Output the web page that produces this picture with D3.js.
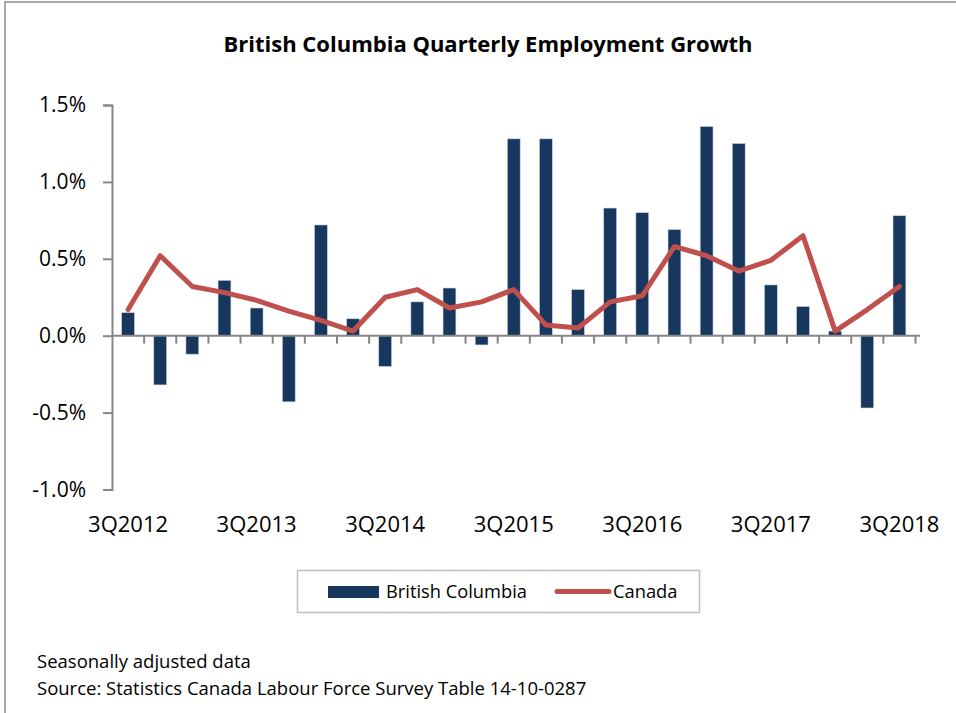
<!DOCTYPE html>
<html>
<head>
<meta charset="utf-8">
<script src="https://cdn.jsdelivr.net/npm/d3@7"></script>
<style>
  body { margin: 0; background: white; }
  svg { font-family: 'Open Sans', sans-serif; }
</style>
</head>
<body>
<div id="wrapper"></div>
<script>
const quarters = ['3Q2012','4Q2012','1Q2013','2Q2013','3Q2013','4Q2013','1Q2014','2Q2014','3Q2014','4Q2014',
  '1Q2015','2Q2015','3Q2015','4Q2015','1Q2016','2Q2016','3Q2016','4Q2016','1Q2017','2Q2017',
  '3Q2017','4Q2017','1Q2018','2Q2018','3Q2018']
const bcGrowth = [0.15,-0.32,-0.12,0.36,0.18,-0.43,0.72,0.11,-0.20,0.22,
  0.31,-0.06,1.28,1.28,0.30,0.83,0.80,0.69,1.36,1.25,
  0.33,0.19,0.03,-0.47,0.78]
const canadaGrowth = [0.17,0.52,0.32,0.28,0.23,0.16,0.10,0.03,0.25,0.30,
  0.18,0.22,0.30,0.07,0.05,0.22,0.26,0.58,0.52,0.42,
  0.49,0.65,0.03,0.17,0.32]
const yTicks = [-1.0,-0.5,0,0.5,1.0,1.5]
const xLabels = ['3Q2012','3Q2013','3Q2014','3Q2015','3Q2016','3Q2017','3Q2018']
const notes = ['Seasonally adjusted data', 'Source: Statistics Canada Labour Force Survey Table 14-10-0287']

let dimensions = {
  width: 956,
  height: 713,
  margin: { top: 105, right: 40, bottom: 224, left: 112 },
}
dimensions.boundedWidth = dimensions.width - dimensions.margin.left - dimensions.margin.right
dimensions.boundedHeight = dimensions.height - dimensions.margin.top - dimensions.margin.bottom

const barColor = '#17375e'
const lineColor = '#c0504d'
const axisColor = '#868686'

const wrapper = d3.select('#wrapper')
  .append('svg')
    .attr('width', dimensions.width)
    .attr('height', dimensions.height)

// outer frame
wrapper.append('rect')
  .attr('x', 5).attr('y', 2)
  .attr('width', 1200).attr('height', 1200)
  .attr('fill', 'white')
  .attr('stroke', '#8c8c8c')
  .attr('stroke-width', 1.5)

wrapper.append('text')
  .attr('x', 488).attr('y', 52)
  .attr('text-anchor', 'middle')
  .style('font-size', '22px')
  .style('font-weight', 'bold')
  .text('British Columbia Quarterly Employment Growth')

const bounds = wrapper.append('g')
  .attr('transform', `translate(${dimensions.margin.left}, ${dimensions.margin.top})`)

const xScale = d3.scaleBand()
  .domain(quarters)
  .range([0, dimensions.boundedWidth - 0.5])
  .paddingInner(0.6)
  .paddingOuter(0.3)

const yScale = d3.scaleLinear()
  .domain([-1.0, 1.5])
  .range([384.5, 0])

// y axis
const yAxisGenerator = d3.axisLeft(yScale)
  .tickValues(yTicks)
  .tickSize(9)
  .tickFormat(d => d.toFixed(1) + '%')

const yAxis = bounds.append('g').call(yAxisGenerator)
yAxis.select('.domain').attr('stroke', axisColor).attr('stroke-width', 2)
yAxis.selectAll('.tick line').attr('stroke', axisColor).attr('stroke-width', 2)
yAxis.selectAll('.tick text')
  .attr('x', -26)
  .attr('fill', '#000')
  .style('font-size', '21px')
  .style('font-family', "'Open Sans', sans-serif")

// bars
bounds.append('g').selectAll('rect')
  .data(quarters)
  .join('rect')
    .attr('x', d => xScale(d))
    .attr('width', xScale.bandwidth())
    .attr('y', (d, i) => yScale(Math.max(0, bcGrowth[i])))
    .attr('height', (d, i) => Math.abs(yScale(bcGrowth[i]) - yScale(0)))
    .attr('fill', barColor)
    .attr('stroke', '#c9d3e0')
    .attr('stroke-width', 0.6)

// x axis at zero
const step = xScale.step()
const xAxisLine = bounds.append('g')
  .attr('transform', `translate(0, ${yScale(0)})`)
xAxisLine.append('line')
  .attr('x1', 0).attr('x2', dimensions.boundedWidth + 4)
  .attr('stroke', axisColor).attr('stroke-width', 2)
xAxisLine.selectAll('.qtick')
  .data(d3.range(1, quarters.length + 1))
  .join('line')
    .attr('class', 'qtick')
    .attr('x1', d => xScale(quarters[0]) - step * 0.3 + d * step)
    .attr('x2', d => xScale(quarters[0]) - step * 0.3 + d * step)
    .attr('y1', 0).attr('y2', 8)
    .attr('stroke', axisColor).attr('stroke-width', 2)

// x labels
bounds.append('g').selectAll('text')
  .data(xLabels)
  .join('text')
    .attr('x', d => xScale(d) + xScale.bandwidth() / 2)
    .attr('y', 427)
    .attr('text-anchor', 'middle')
    .style('font-size', '22px')
    .text(d => d)

// canada line
const lineGenerator = d3.line()
  .x((d, i) => xScale(quarters[i]) + xScale.bandwidth() / 2)
  .y(d => yScale(d))

bounds.append('path')
  .attr('d', lineGenerator(canadaGrowth))
  .attr('fill', 'none')
  .attr('stroke', lineColor)
  .attr('stroke-width', 5)
  .attr('stroke-linejoin', 'round')
  .attr('stroke-linecap', 'round')

// legend
const legend = wrapper.append('g')
legend.append('rect')
  .attr('x', 297.5).attr('y', 570.5)
  .attr('width', 402).attr('height', 42)
  .attr('fill', 'white')
  .attr('stroke', '#bfbfbf')
  .attr('stroke-width', 1.5)
legend.append('rect')
  .attr('x', 328).attr('y', 586)
  .attr('width', 51).attr('height', 12)
  .attr('fill', barColor)
legend.append('text')
  .attr('x', 386).attr('y', 598)
  .style('font-size', '18.3px')
  .text('British Columbia')
legend.append('line')
  .attr('x1', 557).attr('x2', 609)
  .attr('y1', 591.5).attr('y2', 591.5)
  .attr('stroke', lineColor)
  .attr('stroke-width', 5)
  .attr('stroke-linecap', 'round')
legend.append('text')
  .attr('x', 613).attr('y', 598)
  .style('font-size', '18.3px')
  .text('Canada')

// footnotes
wrapper.append('g').selectAll('text')
  .data(notes)
  .join('text')
    .attr('x', 37)
    .attr('y', (d, i) => 668 + i * 27)
    .style('font-size', '18.5px')
    .text(d => d)
</script>
</body>
</html>
